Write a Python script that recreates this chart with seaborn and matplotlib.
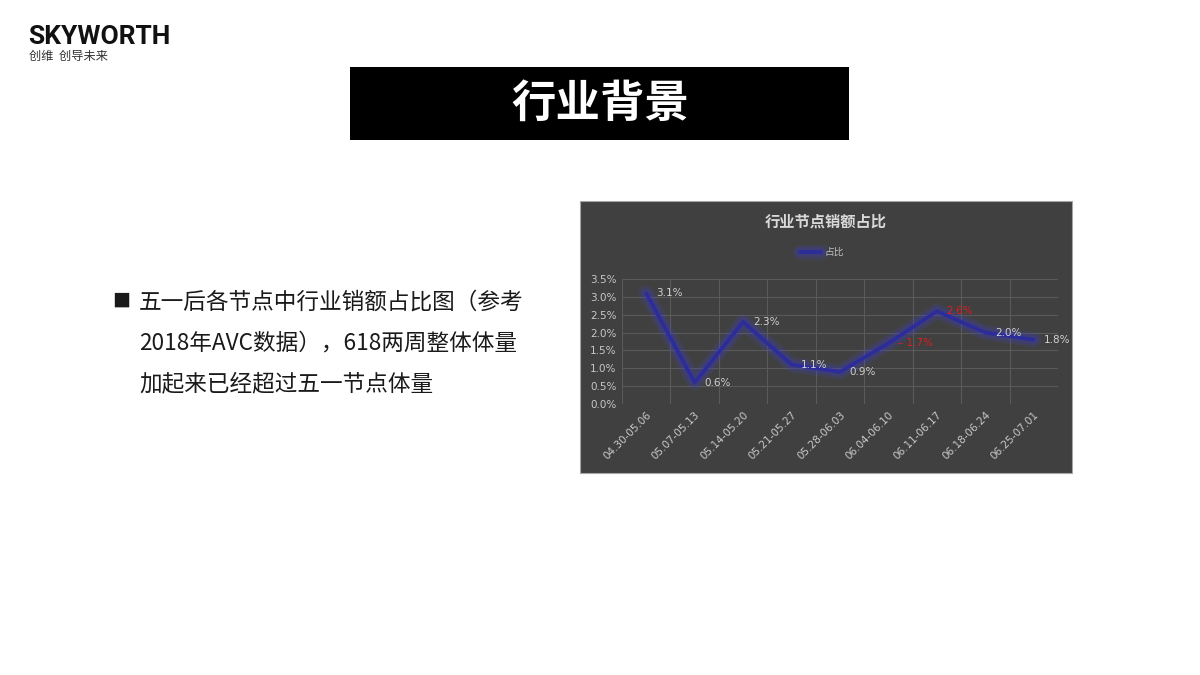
"""
Slide: industry background, weekly sales share line chart.
"""
import matplotlib
matplotlib.use("Agg")
import matplotlib.pyplot as plt
import matplotlib.patheffects as pe
from matplotlib.patches import Rectangle
from matplotlib.ticker import FixedLocator, MultipleLocator
import pandas as pd
import seaborn as sns

weeks = ["04.30-05.06", "05.07-05.13", "05.14-05.20", "05.21-05.27", "05.28-06.03",
         "06.04-06.10", "06.11-06.17", "06.18-06.24", "06.25-07.01"]
share = [3.1, 0.6, 2.3, 1.1, 0.9, 1.7, 2.6, 2.0, 1.8]
highlight_weeks = ["06.04-06.10", "06.11-06.17"]

bullet_lines = ["五一后各节点中行业销额占比图（参考",
                "2018年AVC数据），618两周整体体量",
                "加起来已经超过五一节点体量"]

sns.set_theme(style="dark")
plt.rcParams["font.family"] = ["Noto Sans CJK SC", "DejaVu Sans"]

W, H = 1200, 675
fig = plt.figure(figsize=(12, 6.75), dpi=100, facecolor="white")


def fx(px):
    return px / W


def fy(py):
    return 1 - py / H


# logo
fig.text(fx(28), fy(37), "SKYWORTH", family=["Roboto", "DejaVu Sans"], fontweight="bold",
         fontsize=19, color="#111111", va="center", ha="left")
fig.text(fx(29), fy(56), "创维  创导未来", fontsize=8.8, color="#333333", va="center", ha="left")

# title box
fig.patches.append(Rectangle((fx(350), fy(140)), fx(499), 73 / H, transform=fig.transFigure,
                             facecolor="black", edgecolor="none", zorder=-1))
fig.text(fx(600), fy(104), "行业背景", fontsize=32, fontweight="bold", color="white",
         ha="center", va="center")

# bullet text
fig.text(fx(112), fy(302), "■", fontsize=13, color="#1a1a1a", ha="left", va="center")
for i, line in enumerate(bullet_lines):
    fig.text(fx(139), fy(302 + 41 * i), line, fontsize=16.3, color="#1a1a1a",
             ha="left", va="center")

# chart panel
fig.patches.append(Rectangle((fx(580), fy(473)), fx(492), 272 / H, transform=fig.transFigure,
                             facecolor="#404040", edgecolor="#a6a6a6", lw=0.8, zorder=-1))
fig.text(fx(826), fy(222), "行业节点销额占比", fontsize=11, fontweight="bold", color="#d9d9d9",
         ha="center", va="center")

df = pd.DataFrame({"week": weeks, "share": share})
df["pos"] = range(len(df))

ax = fig.add_axes([fx(622), fy(404), fx(436), 125 / H])
ax.set_zorder(2)
ax.set_facecolor("none")

glow = [pe.Stroke(linewidth=11, foreground="#4a4ad0", alpha=0.15),
        pe.Stroke(linewidth=7, foreground="#3a3ab8", alpha=0.3),
        pe.Normal()]
sns.lineplot(data=df, x="pos", y="share", ax=ax, color="#2c2c9c", lw=2.6,
             label="占比", path_effects=glow)

for _, row in df.iterrows():
    c = "#d92020" if row["week"] in highlight_weeks else "#d0d0d0"
    txt = f"{row['share']:.1f}%"
    if row["week"] == "06.04-06.10":
        txt = "– " + txt
    ax.annotate(txt, (row["pos"], row["share"]), xytext=(7, 0), textcoords="offset points",
                ha="left", va="center", fontsize=7.5, color=c, family=["DejaVu Sans"])

ax.set_xlim(-0.5, len(weeks) - 0.5)
ax.set_ylim(0, 3.5)
ax.yaxis.set_major_locator(MultipleLocator(0.5))
ax.set_yticklabels([f"{v:.1f}%" for v in ax.get_yticks()])
ax.set_xticks(df["pos"])
ax.set_xticklabels(weeks, rotation=45, ha="right", rotation_mode="anchor")
ax.xaxis.set_minor_locator(FixedLocator([p - 0.5 for p in range(len(weeks) + 1)]))
ax.tick_params(axis="both", which="both", length=0, colors="#c8c8c8", labelsize=7.5, pad=4)
for lab in ax.get_xticklabels() + ax.get_yticklabels():
    lab.set_family(["DejaVu Sans"])
ax.grid(False)
ax.grid(axis="y", which="major", color="#5a5a5a", lw=0.8)
ax.grid(axis="x", which="minor", color="#5a5a5a", lw=0.8)
ax.set_xlabel("")
ax.set_ylabel("")
sns.despine(ax=ax, left=True, bottom=True)

leg = ax.legend(loc="center", bbox_to_anchor=(fx(822), fy(252)), bbox_transform=fig.transFigure,
                frameon=False, fontsize=7, handlelength=2.2, handletextpad=0.4)
for t in leg.get_texts():
    t.set_color("#bfbfbf")

fig.savefig("out.png", dpi=100, facecolor="white")
